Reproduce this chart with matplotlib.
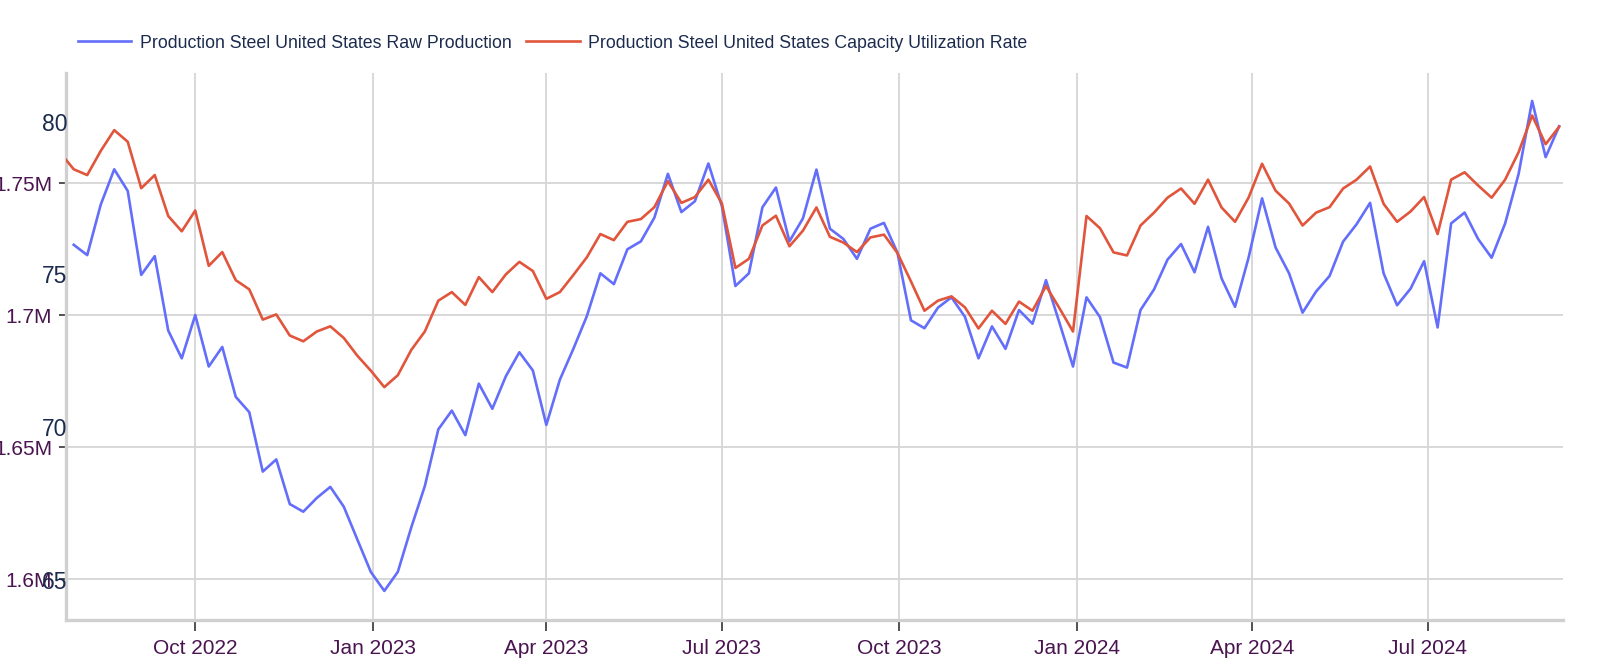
import datetime as dt
import matplotlib
matplotlib.use("Agg")
import matplotlib.pyplot as plt
import matplotlib.dates as mdates
from matplotlib.ticker import FuncFormatter

# weekly data, raw production starts one week after utilization
prod_start = dt.date(2022, 7, 30)
util_start = dt.date(2022, 7, 23)

raw_production_k = [
    1726.7, 1722.8, 1741.9, 1755.3, 1747.1, 1715.3, 1722.4, 1694.2, 1683.7, 1700.1,
    1680.6, 1688.0, 1669.1, 1663.3, 1640.8, 1645.4, 1628.5, 1625.6, 1630.8, 1635.0,
    1627.5, 1615.1, 1602.8, 1595.6, 1602.8, 1619.7, 1635.3, 1656.8, 1663.9, 1654.6,
    1674.1, 1664.6, 1676.9, 1686.0, 1679.1, 1658.5, 1675.6, 1687.3, 1699.7, 1715.9,
    1711.8, 1725.0, 1728.0, 1737.0, 1753.6, 1739.1, 1743.2, 1757.5, 1741.3, 1711.1,
    1715.9, 1740.9, 1748.4, 1728.0, 1736.7, 1755.2, 1732.8, 1728.9, 1721.4, 1732.8,
    1735.0, 1723.7, 1698.1, 1695.1, 1702.9, 1706.8, 1699.4, 1683.7, 1695.8, 1687.3,
    1702.0, 1696.8, 1713.3, 1697.1, 1680.6, 1706.8, 1699.3, 1682.1, 1680.2, 1702.0,
    1709.8, 1721.1, 1727.0, 1716.3, 1733.5, 1714.0, 1703.2, 1721.8, 1744.3, 1725.7,
    1715.9, 1701.0, 1709.0, 1714.9, 1727.9, 1734.5, 1742.6, 1715.9, 1703.8, 1710.1,
    1720.5, 1695.4, 1734.8, 1738.9, 1728.9, 1721.8, 1734.8, 1753.6, 1781.2, 1759.9,
    1771.6,
]

utilization = [
    78.98, 78.44, 78.25, 79.04, 79.72, 79.34, 77.82, 78.25, 76.91, 76.41, 77.09,
    75.28, 75.73, 74.81, 74.51, 73.52, 73.69, 73.00, 72.81, 73.13, 73.30,
    72.92, 72.34, 71.85, 71.31, 71.70, 72.53, 73.13, 74.14, 74.42, 74.00,
    74.91, 74.42, 75.00, 75.41, 75.11, 74.20, 74.42, 74.98, 75.56, 76.32,
    76.12, 76.72, 76.81, 77.20, 78.05, 77.34, 77.53, 78.10, 77.32, 75.21,
    75.51, 76.60, 76.92, 75.92, 76.43, 77.19, 76.23, 76.04, 75.73, 76.21,
    76.30, 75.70, 74.77, 73.81, 74.14, 74.28, 73.92, 73.23, 73.81, 73.38,
    74.11, 73.81, 74.62, 73.89, 73.13, 76.91, 76.51, 75.72, 75.62, 76.60,
    77.02, 77.51, 77.81, 77.31, 78.10, 77.19, 76.72, 77.51, 78.62, 77.74,
    77.32, 76.60, 77.02, 77.20, 77.81, 78.10, 78.53, 77.31, 76.72, 77.06,
    77.53, 76.32, 78.10, 78.34, 77.91, 77.51, 78.10, 79.00, 80.20, 79.26,
    79.83,
]

prod_dates = [prod_start + dt.timedelta(weeks=i) for i in range(len(raw_production_k))]
util_dates = [util_start + dt.timedelta(weeks=i) for i in range(len(utilization))]
raw_production = [v * 1000 for v in raw_production_k]

prod_ticks = [1.6e6, 1.65e6, 1.7e6, 1.75e6]
util_ticks = [65, 70, 75, 80]
quarter_ticks = [dt.date(2022, 10, 1), dt.date(2023, 1, 1), dt.date(2023, 4, 1),
                 dt.date(2023, 7, 1), dt.date(2023, 10, 1), dt.date(2024, 1, 1),
                 dt.date(2024, 4, 1), dt.date(2024, 7, 1)]

blue = "#636efa"
red = "#e0553b"
purple = "#4a1450"
navy = "#1c2b4e"
grid = "#d6d6d6"

plt.rcParams["font.family"] = ["Liberation Sans", "DejaVu Sans"]

W, H = 1600, 671
fig = plt.figure(figsize=(W / 100, H / 100), dpi=100)
ax = fig.add_axes([66 / W, 1 - 620 / H, (1563 - 66) / W, (620 - 73) / H])
ax2 = ax.twinx()

l1, = ax.plot(prod_dates, raw_production, color=blue, lw=1.9,
              label="Production Steel United States Raw Production")
l2, = ax2.plot(util_dates, utilization, color=red, lw=1.9,
               label="Production Steel United States Capacity Utilization Rate")

ax.set_xlim(dt.date(2022, 7, 26), dt.date(2024, 9, 9))
ax.set_ylim(1584580, 1791780)
ax2.set_ylim(63.69, 81.59)

ax.set_xticks(quarter_ticks)
ax.xaxis.set_major_formatter(mdates.DateFormatter("%b %Y"))
ax.set_yticks(prod_ticks)
ax.yaxis.set_major_formatter(FuncFormatter(lambda v, p: f"{v / 1e6:g}M"))
ax2.set_yticks(util_ticks)

ax.grid(True, color=grid, lw=1.3)
ax.set_axisbelow(True)

for s in ["top", "right"]:
    ax.spines[s].set_visible(False)
for s in ax2.spines.values():
    s.set_visible(False)
ax.spines["left"].set_color("#d0d0d0")
ax.spines["bottom"].set_color("#d0d0d0")
ax.spines["left"].set_linewidth(2.4)
ax.spines["bottom"].set_linewidth(2.4)

ax.tick_params(axis="x", direction="out", length=8, width=1.1, color="#222222",
               labelsize=15, labelcolor=purple, pad=6)
ax.tick_params(axis="y", direction="out", length=5, width=1.1, color="#222222",
               labelsize=15, labelcolor=purple, pad=5)

ax2.yaxis.set_ticks_position("left")
ax2.yaxis.set_label_position("left")
ax2.tick_params(axis="y", length=0, labelsize=16.5, labelcolor=navy, pad=-1)

fig.legend(handles=[l1, l2], loc="center left", bbox_to_anchor=(62 / W, 1 - 43 / H),
           ncol=2, frameon=False, fontsize=12.8, labelcolor=navy,
           handlelength=3.0, handletextpad=0.5, columnspacing=0.8)

fig.savefig("out.png", dpi=100)
